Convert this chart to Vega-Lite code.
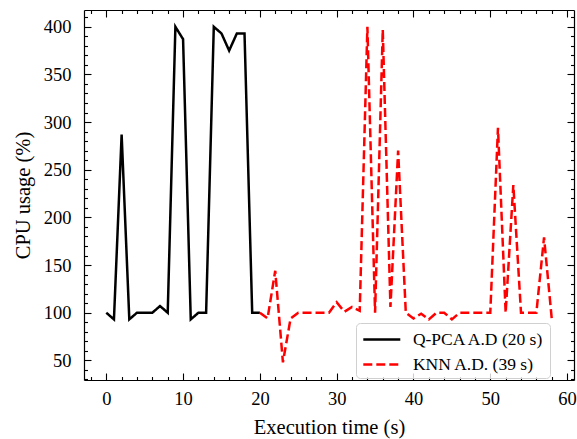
{
  "$schema": "https://vega.github.io/schema/vega-lite/v6.json",
  "width": 490,
  "height": 370,
  "autosize": {"type": "none"},
  "padding": {"left": 84, "top": 10, "right": 3, "bottom": 59},
  "background": "white",
  "config": {
    "font": "Liberation Serif",
    "view": {"stroke": null},
    "axis": {
      "grid": false,
      "domainColor": "black",
      "domainWidth": 1.2,
      "tickColor": "black",
      "tickWidth": 1.1,
      "labelColor": "black",
      "titleColor": "black",
      "labelFont": "Liberation Serif",
      "titleFont": "Liberation Serif",
      "labelFontSize": 18.5,
      "titleFontSize": 20.5,
      "titleFontWeight": "normal",
      "labelOverlap": false,
      "labelFlush": false,
      "labelBound": false
    },
    "legend": {
      "title": null,
      "orient": "none",
      "legendX": 272,
      "legendY": 313,
      "padding": 5,
      "fillColor": "rgba(255,255,255,0.8)",
      "strokeColor": "#d0d0d0",
      "cornerRadius": 4,
      "symbolType": "M-1.85,0H1.85",
      "symbolSize": 400,
      "symbolStrokeWidth": 2.4,
      "symbolOffset": 9.3,
      "labelFont": "Liberation Serif",
      "labelFontSize": 17.5,
      "labelColor": "black",
      "labelOffset": 19.6,
      "rowPadding": 5,
      "labelLimit": 300
    }
  },
  "data": {
    "values": [
      {"t": 0, "cpu": 100, "series": "Q-PCA A.D (20 s)"},
      {"t": 1, "cpu": 93, "series": "Q-PCA A.D (20 s)"},
      {"t": 2, "cpu": 287, "series": "Q-PCA A.D (20 s)"},
      {"t": 3, "cpu": 93, "series": "Q-PCA A.D (20 s)"},
      {"t": 4, "cpu": 100, "series": "Q-PCA A.D (20 s)"},
      {"t": 5, "cpu": 100, "series": "Q-PCA A.D (20 s)"},
      {"t": 6, "cpu": 100, "series": "Q-PCA A.D (20 s)"},
      {"t": 7, "cpu": 107, "series": "Q-PCA A.D (20 s)"},
      {"t": 8, "cpu": 100, "series": "Q-PCA A.D (20 s)"},
      {"t": 9, "cpu": 400, "series": "Q-PCA A.D (20 s)"},
      {"t": 10, "cpu": 387, "series": "Q-PCA A.D (20 s)"},
      {"t": 11, "cpu": 93, "series": "Q-PCA A.D (20 s)"},
      {"t": 12, "cpu": 100, "series": "Q-PCA A.D (20 s)"},
      {"t": 13, "cpu": 100, "series": "Q-PCA A.D (20 s)"},
      {"t": 14, "cpu": 400, "series": "Q-PCA A.D (20 s)"},
      {"t": 15, "cpu": 393, "series": "Q-PCA A.D (20 s)"},
      {"t": 16, "cpu": 375, "series": "Q-PCA A.D (20 s)"},
      {"t": 17, "cpu": 393, "series": "Q-PCA A.D (20 s)"},
      {"t": 18, "cpu": 393, "series": "Q-PCA A.D (20 s)"},
      {"t": 19, "cpu": 100, "series": "Q-PCA A.D (20 s)"},
      {"t": 20, "cpu": 100, "series": "Q-PCA A.D (20 s)"},
      {"t": 20, "cpu": 100, "series": "KNN A.D. (39 s)"},
      {"t": 21, "cpu": 94, "series": "KNN A.D. (39 s)"},
      {"t": 22, "cpu": 144, "series": "KNN A.D. (39 s)"},
      {"t": 23, "cpu": 48, "series": "KNN A.D. (39 s)"},
      {"t": 24, "cpu": 94, "series": "KNN A.D. (39 s)"},
      {"t": 25, "cpu": 100, "series": "KNN A.D. (39 s)"},
      {"t": 26, "cpu": 100, "series": "KNN A.D. (39 s)"},
      {"t": 27, "cpu": 100, "series": "KNN A.D. (39 s)"},
      {"t": 28, "cpu": 100, "series": "KNN A.D. (39 s)"},
      {"t": 29, "cpu": 100, "series": "KNN A.D. (39 s)"},
      {"t": 30, "cpu": 111, "series": "KNN A.D. (39 s)"},
      {"t": 31, "cpu": 101, "series": "KNN A.D. (39 s)"},
      {"t": 32, "cpu": 106, "series": "KNN A.D. (39 s)"},
      {"t": 33, "cpu": 102, "series": "KNN A.D. (39 s)"},
      {"t": 34, "cpu": 400, "series": "KNN A.D. (39 s)"},
      {"t": 35, "cpu": 100, "series": "KNN A.D. (39 s)"},
      {"t": 36, "cpu": 397, "series": "KNN A.D. (39 s)"},
      {"t": 37, "cpu": 106, "series": "KNN A.D. (39 s)"},
      {"t": 38, "cpu": 270, "series": "KNN A.D. (39 s)"},
      {"t": 39, "cpu": 100, "series": "KNN A.D. (39 s)"},
      {"t": 40, "cpu": 94, "series": "KNN A.D. (39 s)"},
      {"t": 41, "cpu": 99, "series": "KNN A.D. (39 s)"},
      {"t": 42, "cpu": 93, "series": "KNN A.D. (39 s)"},
      {"t": 43, "cpu": 100, "series": "KNN A.D. (39 s)"},
      {"t": 44, "cpu": 100, "series": "KNN A.D. (39 s)"},
      {"t": 45, "cpu": 93, "series": "KNN A.D. (39 s)"},
      {"t": 46, "cpu": 100, "series": "KNN A.D. (39 s)"},
      {"t": 47, "cpu": 100, "series": "KNN A.D. (39 s)"},
      {"t": 48, "cpu": 100, "series": "KNN A.D. (39 s)"},
      {"t": 49, "cpu": 100, "series": "KNN A.D. (39 s)"},
      {"t": 50, "cpu": 100, "series": "KNN A.D. (39 s)"},
      {"t": 51, "cpu": 294, "series": "KNN A.D. (39 s)"},
      {"t": 52, "cpu": 100, "series": "KNN A.D. (39 s)"},
      {"t": 53, "cpu": 234, "series": "KNN A.D. (39 s)"},
      {"t": 54, "cpu": 100, "series": "KNN A.D. (39 s)"},
      {"t": 55, "cpu": 100, "series": "KNN A.D. (39 s)"},
      {"t": 56, "cpu": 100, "series": "KNN A.D. (39 s)"},
      {"t": 57, "cpu": 179, "series": "KNN A.D. (39 s)"},
      {"t": 58, "cpu": 94, "series": "KNN A.D. (39 s)"}
    ]
  },
  "layer": [
    {
      "mark": {"type": "line", "strokeWidth": 2.5, "clip": true},
      "encoding": {
        "x": {
          "field": "t", "type": "quantitative",
          "scale": {"domain": [-2.9, 60.9], "nice": false, "zero": false},
          "axis": {
            "orient": "bottom",
            "title": "Execution time (s)",
            "values": [-2,0,2,4,6,8,10,12,14,16,18,20,22,24,26,28,30,32,34,36,38,40,42,44,46,48,50,52,54,56,58,60],
            "tickSize": {"condition": {"test": "datum.value % 10 === 0", "value": -7}, "value": -3.5},
            "labelExpr": "datum.value % 10 === 0 ? datum.label : ''",
            "format": "d",
            "labelPadding": 16,
            "titlePadding": 6
          }
        },
        "y": {
          "field": "cpu", "type": "quantitative",
          "scale": {"domain": [29.4, 417.6], "nice": false, "zero": false},
          "axis": {
            "orient": "left",
            "title": "CPU usage (%)",
            "values": [30,40,50,60,70,80,90,100,110,120,130,140,150,160,170,180,190,200,210,220,230,240,250,260,270,280,290,300,310,320,330,340,350,360,370,380,390,400,410],
            "tickSize": {"condition": {"test": "datum.value % 50 === 0", "value": -7}, "value": -3.5},
            "labelExpr": "datum.value % 50 === 0 ? datum.label : ''",
            "format": "d",
            "labelPadding": 20,
            "titlePadding": 10
          }
        },
        "color": {
          "field": "series", "type": "nominal",
          "scale": {"domain": ["Q-PCA A.D (20 s)", "KNN A.D. (39 s)"], "range": ["#000000", "#ff0000"]},
          "legend": {}
        },
        "strokeDash": {
          "field": "series", "type": "nominal",
          "scale": {"domain": ["Q-PCA A.D (20 s)", "KNN A.D. (39 s)"], "range": [[1, 0], [9, 4]]},
          "legend": {}
        }
      }
    },
    {
      "mark": {"type": "line", "opacity": 0},
      "encoding": {
        "x": {
          "field": "t", "type": "quantitative",
          "axis": {
            "orient": "top",
            "title": null,
            "labels": false,
            "values": [-2,0,2,4,6,8,10,12,14,16,18,20,22,24,26,28,30,32,34,36,38,40,42,44,46,48,50,52,54,56,58,60],
            "tickSize": {"condition": {"test": "datum.value % 10 === 0", "value": -7}, "value": -3.5}
          }
        },
        "y": {
          "field": "cpu", "type": "quantitative",
          "axis": {
            "orient": "right",
            "title": null,
            "labels": false,
            "values": [30,40,50,60,70,80,90,100,110,120,130,140,150,160,170,180,190,200,210,220,230,240,250,260,270,280,290,300,310,320,330,340,350,360,370,380,390,400,410],
            "tickSize": {"condition": {"test": "datum.value % 50 === 0", "value": -7}, "value": -3.5}
          }
        },
        "detail": {"field": "series", "type": "nominal"}
      }
    }
  ],
  "resolve": {"axis": {"x": "independent", "y": "independent"}}
}
